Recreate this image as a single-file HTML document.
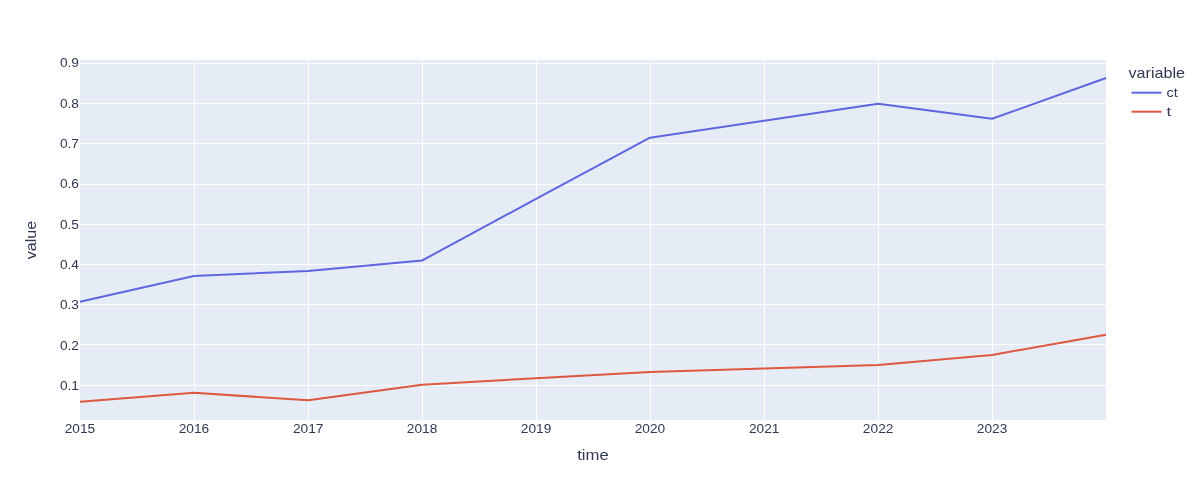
<!DOCTYPE html>
<html><head><meta charset="utf-8"><style>
html,body{margin:0;padding:0;background:#fff;width:1200px;height:500px;overflow:hidden}
svg{display:block;will-change:transform}
text{font-family:"Liberation Sans", sans-serif;font-size:12px;fill:#303852}
</style></head><body>
<svg width="1200" height="500" viewBox="0 0 1200 500">
<rect x="80" y="60" width="1026" height="360" fill="#E5ECF6"/>
<rect x="194" y="60" width="1" height="360" fill="#fff"/>
<rect x="308" y="60" width="1" height="360" fill="#fff"/>
<rect x="422" y="60" width="1" height="360" fill="#fff"/>
<rect x="536" y="60" width="1" height="360" fill="#fff"/>
<rect x="650" y="60" width="1" height="360" fill="#fff"/>
<rect x="764" y="60" width="1" height="360" fill="#fff"/>
<rect x="878" y="60" width="1" height="360" fill="#fff"/>
<rect x="992" y="60" width="1" height="360" fill="#fff"/>
<rect x="80" y="385" width="1026" height="1" fill="#fff"/>
<rect x="80" y="344" width="1026" height="1" fill="#fff"/>
<rect x="80" y="304" width="1026" height="1" fill="#fff"/>
<rect x="80" y="264" width="1026" height="1" fill="#fff"/>
<rect x="80" y="224" width="1026" height="1" fill="#fff"/>
<rect x="80" y="184" width="1026" height="1" fill="#fff"/>
<rect x="80" y="143" width="1026" height="1" fill="#fff"/>
<rect x="80" y="103" width="1026" height="1" fill="#fff"/>
<rect x="80" y="63" width="1026" height="1" fill="#fff"/>
<path d="M80.00,301.75 L193.93,275.95 L308.18,270.90 L422.11,260.50 L536.04,198.90 L649.97,137.70 L764.21,120.75 L878.14,103.80 L992.07,118.80 L1106.00,78.00" fill="none" stroke="#5e66e0" stroke-width="2" stroke-linejoin="round"/>
<path d="M80.00,401.80 L193.93,392.80 L308.18,400.30 L422.11,384.70 L536.04,378.25 L649.97,371.90 L764.21,368.50 L878.14,365.00 L992.07,354.90 L1106.00,334.85" fill="none" stroke="#dc5840" stroke-width="2" stroke-linejoin="round"/>
<text x="79" y="389.80" text-anchor="end" textLength="19.07" lengthAdjust="spacingAndGlyphs">0.1</text>
<text x="79" y="349.50" text-anchor="end" textLength="19.07" lengthAdjust="spacingAndGlyphs">0.2</text>
<text x="79" y="309.20" text-anchor="end" textLength="19.07" lengthAdjust="spacingAndGlyphs">0.3</text>
<text x="79" y="268.90" text-anchor="end" textLength="19.07" lengthAdjust="spacingAndGlyphs">0.4</text>
<text x="79" y="228.60" text-anchor="end" textLength="19.07" lengthAdjust="spacingAndGlyphs">0.5</text>
<text x="79" y="188.30" text-anchor="end" textLength="19.07" lengthAdjust="spacingAndGlyphs">0.6</text>
<text x="79" y="148.00" text-anchor="end" textLength="19.07" lengthAdjust="spacingAndGlyphs">0.7</text>
<text x="79" y="107.70" text-anchor="end" textLength="19.07" lengthAdjust="spacingAndGlyphs">0.8</text>
<text x="79" y="67.40" text-anchor="end" textLength="19.07" lengthAdjust="spacingAndGlyphs">0.9</text>
<text x="80.00" y="433" text-anchor="middle" textLength="30.52" lengthAdjust="spacingAndGlyphs">2015</text>
<text x="193.93" y="433" text-anchor="middle" textLength="30.52" lengthAdjust="spacingAndGlyphs">2016</text>
<text x="308.18" y="433" text-anchor="middle" textLength="30.52" lengthAdjust="spacingAndGlyphs">2017</text>
<text x="422.11" y="433" text-anchor="middle" textLength="30.52" lengthAdjust="spacingAndGlyphs">2018</text>
<text x="536.04" y="433" text-anchor="middle" textLength="30.52" lengthAdjust="spacingAndGlyphs">2019</text>
<text x="649.97" y="433" text-anchor="middle" textLength="30.52" lengthAdjust="spacingAndGlyphs">2020</text>
<text x="764.21" y="433" text-anchor="middle" textLength="30.52" lengthAdjust="spacingAndGlyphs">2021</text>
<text x="878.14" y="433" text-anchor="middle" textLength="30.52" lengthAdjust="spacingAndGlyphs">2022</text>
<text x="992.07" y="433" text-anchor="middle" textLength="30.52" lengthAdjust="spacingAndGlyphs">2023</text>
<text x="593" y="460.3" text-anchor="middle" style="font-size:14.8px" textLength="31.64" lengthAdjust="spacingAndGlyphs">time</text>
<text x="0" y="0" transform="translate(35.7,240) rotate(-90)" text-anchor="middle" style="font-size:14.8px" textLength="38.25" lengthAdjust="spacingAndGlyphs">value</text>
<text x="1128.52" y="78.2" style="font-size:14.8px" textLength="56.48" lengthAdjust="spacingAndGlyphs">variable</text>
<path d="M1131.52,92.7h30" stroke="#5e66e0" stroke-width="2"/>
<text x="1166.52" y="97.38" style="font-size:12.7px" textLength="11.31" lengthAdjust="spacingAndGlyphs">ct</text>
<path d="M1131.52,111.7h30" stroke="#dc5840" stroke-width="2"/>
<text x="1166.52" y="116.38" style="font-size:12.7px" textLength="4.72" lengthAdjust="spacingAndGlyphs">t</text>
</svg>
</body></html>
